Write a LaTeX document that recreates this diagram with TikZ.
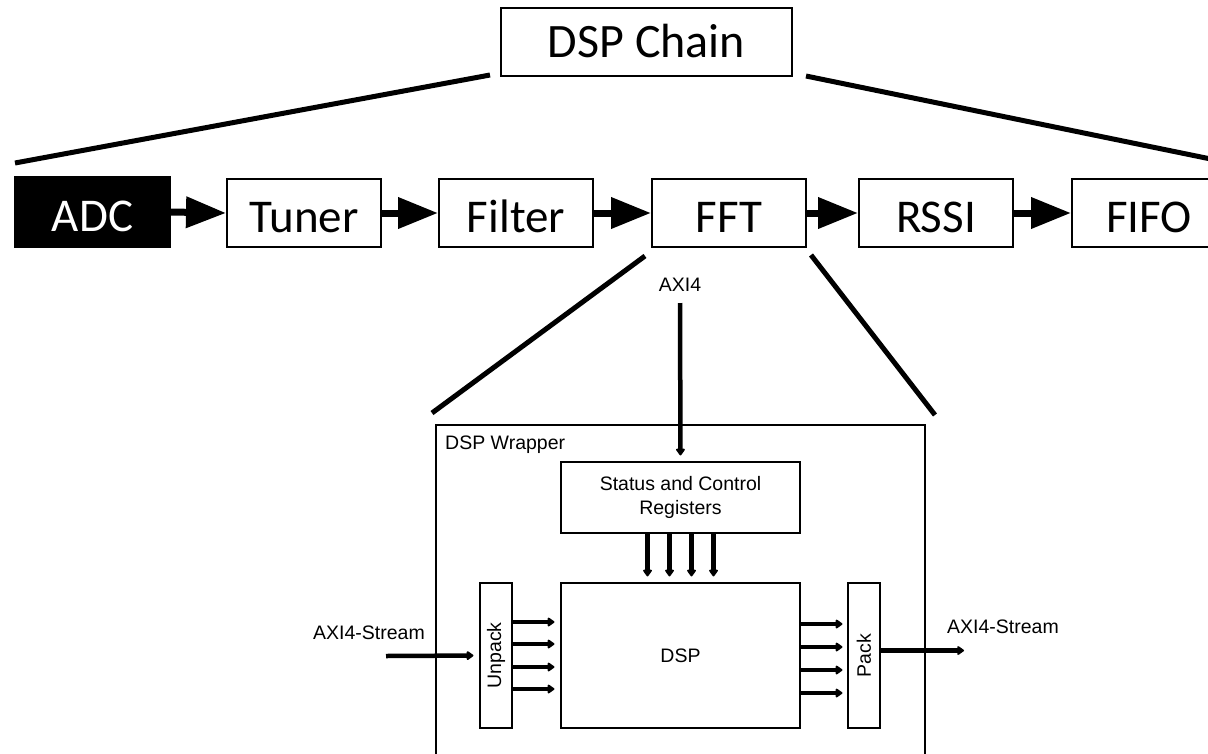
\documentclass[tikz,border=0pt]{standalone}
\usepackage{fontspec}
\setmainfont{Carlito}
\newfontfamily\arialfont{Liberation Sans}
\usetikzlibrary{arrows.meta,calc}

\begin{document}
\begin{tikzpicture}[x=1pt,y=-1pt,
  chainbox/.style={draw,line width=2pt,minimum width=154pt,minimum height=68pt,inner sep=0pt,
    text height=38pt,text depth=0pt,font=\fontsize{47}{50}\selectfont},
  chainarrow/.style={line width=7pt,-{Triangle[length=40pt,width=30pt]}},
  zoomline/.style={line width=5pt},
  hwbox/.style={draw,line width=1.1pt,inner sep=0pt,font=\arialfont\fontsize{19.5}{23.5}\selectfont},
  hwlabel/.style={inner sep=0pt,font=\arialfont\fontsize{19.5}{23.5}\selectfont},
  sig/.style={line width=4.5pt,-{Triangle[round,length=7.5pt,width=10pt]}}
]
\useasboundingbox (0,0) rectangle (1208,753);
\clip (0,0) rectangle (1208,753);

% top level block
\node[chainbox,minimum width=291pt,text height=30pt,font=\fontsize{48}{51}\selectfont] (chain) at (646.5,42) {DSP Chain};

% processing chain
\node[chainbox,fill=black,text=white,minimum width=155pt,minimum height=70pt] (adc) at (92.5,212) {ADC};
\node[chainbox] (tuner)  at (304,213)  {Tuner};
\node[chainbox] (filter) at (516,213)  {Filter};
\node[chainbox] (fft)    at (729,213)  {FFT};
\node[chainbox] (rssi)   at (936,213)  {RSSI};
\node[chainbox] (fifo)   at (1149,213) {FIFO};

\draw[chainarrow] (adc.east)    -- (tuner.west);
\draw[chainarrow] (tuner.east)  -- (filter.west);
\draw[chainarrow] (filter.east) -- (fft.west);
\draw[chainarrow] (fft.east)    -- (rssi.west);
\draw[chainarrow] (rssi.east)   -- (fifo.west);

% expansion lines from DSP Chain
\coordinate (chainL) at (490,75);
\coordinate (chainR) at (806,76);
\coordinate (rowL) at (15,163);
\coordinate (rowR) at (1240,165);
\draw[zoomline] (chainL) -- (rowL);
\draw[zoomline] (chainR) -- (rowR);

% expansion lines from FFT
\coordinate (fftL) at (645,256);
\coordinate (fftR) at (811,255);
\coordinate (wrapL) at (432,413);
\coordinate (wrapR) at (935,415);
\draw[zoomline] (fftL) -- (wrapL);
\draw[zoomline] (fftR) -- (wrapR);

% DSP wrapper
\node[hwbox,minimum width=489pt,minimum height=360pt] (wrapper) at (680.5,605) {};
\node[hwlabel,anchor=west] (wraplabel) at (445,445) {DSP Wrapper};

\node[hwbox,minimum width=239pt,minimum height=71pt,align=center] (regs) at (680.5,497.5)
  {Status and Control\\Registers};
\node[hwbox,minimum width=239pt,minimum height=145pt] (dsp) at (680.5,655.5) {DSP};
\node[hwbox,minimum width=32pt,minimum height=145pt] (unpack) at (496,655.5)
  {\rotatebox{90}{Unpack}};
\node[hwbox,minimum width=32pt,minimum height=145pt] (pack) at (864,655.5)
  {\rotatebox{90}{Pack}};

% AXI4 control port
\node[hwlabel] (axi) at (680,285) {AXI4};
\coordinate (axiIn) at (680,303);
\draw[sig,shorten >=6pt] (axiIn) -- (regs.north);

% register outputs into DSP core
\foreach \dx in {-33,-11,11,33}
  \draw[sig,shorten >=6pt] ([xshift=\dx pt]regs.south) -- ([xshift=\dx pt]dsp.north);

% stream input
\node[hwlabel] (sin) at (369,633) {AXI4-Stream};
\coordinate (sinStart) at (386,656);
\draw[sig,shorten >=6pt] (sinStart) -- (unpack.west);

% unpacked lanes
\foreach \dy in {33.5,11.5,-11.5,-33.5}
  \draw[sig,shorten >=6pt] ([yshift=\dy pt]unpack.east) -- ([yshift=\dy pt]dsp.west);

% lanes to packer
\foreach \dy in {31.5,8.5,-14.5,-37.5}
  \draw[sig,shorten >=5pt] ([yshift=\dy pt]dsp.east) -- ([yshift=\dy pt]pack.west);

% stream output
\node[hwlabel] (sout) at (1003,627) {AXI4-Stream};
\coordinate (soutEnd) at (964,650.5);
\draw[sig] ([yshift=5pt]pack.east) -- (soutEnd);
\end{tikzpicture}
\end{document}
